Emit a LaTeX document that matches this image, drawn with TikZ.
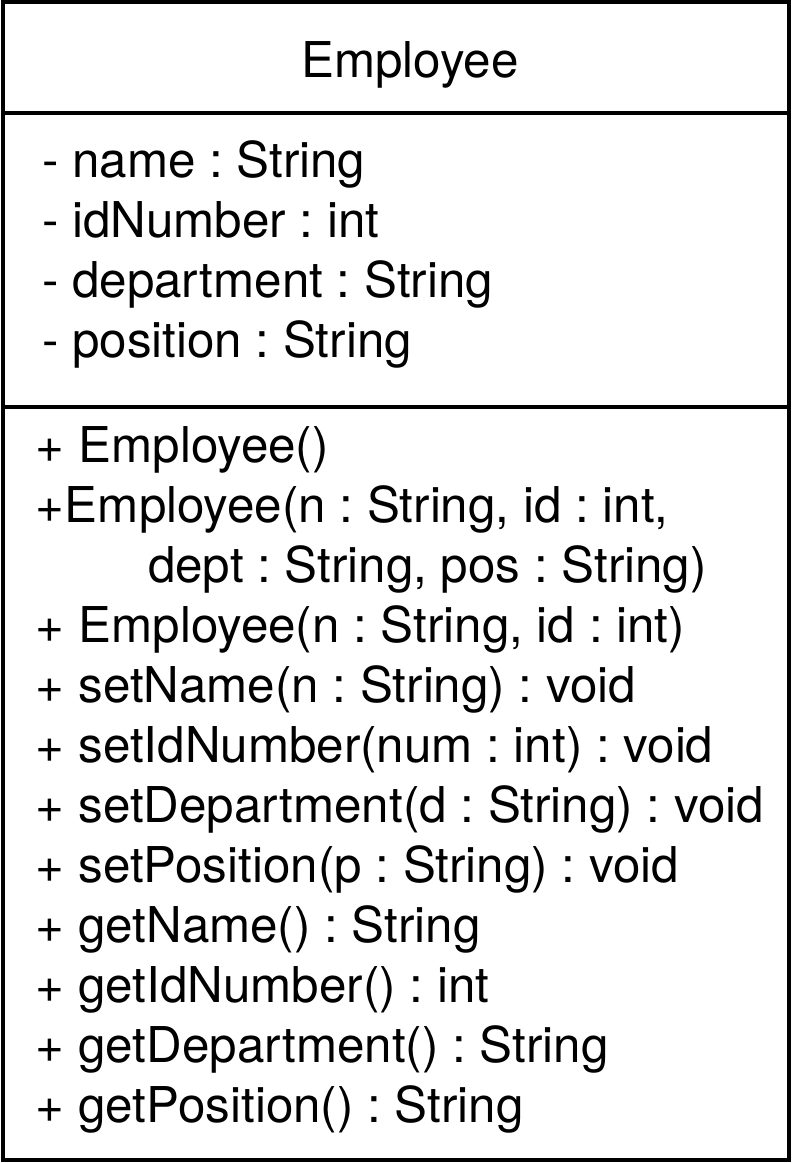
\documentclass[tikz,border=0pt]{standalone}
\usepackage{fontspec}
\setmainfont{TeX Gyre Heros}
\usepackage{tikz}
\tikzset{
  member/.style={anchor=base west, inner sep=0pt, font=\fontsize{37}{45}\selectfont},
  title/.style={anchor=base, inner sep=0pt, font=\fontsize{37}{45}\selectfont}
}
\frenchspacing

\begin{document}
\begin{tikzpicture}[x=0.75pt,y=-0.75pt,line width=3pt]
      \useasboundingbox (0,0) rectangle (798,1163);
      \draw (3,2) rectangle (789,1160);
      \draw (3,113) -- (789,113);
      \draw (3,407) -- (789,407);
      \node[title] (cls) at (410,78) {Employee};
      % attributes
      \node[member] (a1) at (40,177) {- name : String};
      \node[member] (a2) at (40,237) {- idNumber : int};
      \node[member] (a3) at (40,297) {- department : String};
      \node[member] (a4) at (40,357) {- position : String};
      % operations
      \node[member] (m1) at (34,462) {+ Employee()};
      \node[member] (m2) at (34,522) {+Employee(n : String, id : int,};
      \node[member] (m2b) at (146,582) {dept : String, pos : String)};
      \node[member] (m3) at (34,642) {+ Employee(n : String, id : int)};
      \node[member] (m4) at (34,702) {+ setName(n : String) : void};
      \node[member] (m5) at (34,762) {+ setIdNumber(num : int) : void};
      \node[member] (m6) at (34,822) {+ setDepartment(d : String) : void};
      \node[member] (m7) at (34,882) {+ setPosition(p : String) : void};
      \node[member] (m8) at (34,942) {+ getName() : String};
      \node[member] (m9) at (34,1002) {+ getIdNumber() : int};
      \node[member] (m10) at (34,1062) {+ getDepartment() : String};
      \node[member] (m11) at (34,1122) {+ getPosition() : String};
\end{tikzpicture}
\end{document}
